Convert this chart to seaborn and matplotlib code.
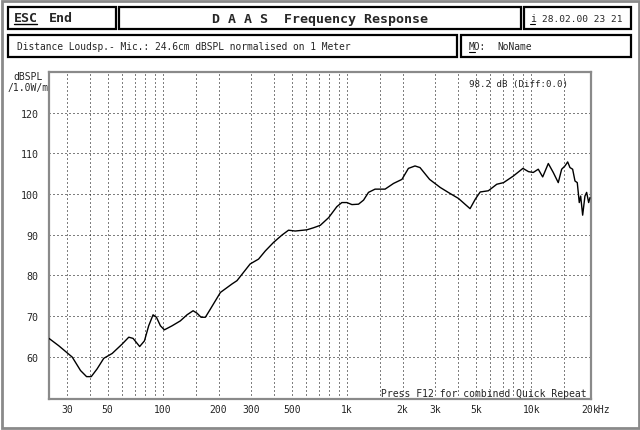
import numpy as np
import matplotlib
matplotlib.use('Agg')
import matplotlib.pyplot as plt
from matplotlib.patches import Rectangle
import seaborn as sns

sns.set_style('white')
plt.rcParams['font.family'] = ['DejaVu Sans Mono', 'DejaVu Sans']

# frequency response (Hz, dBSPL)
freq = [24, 27.1, 32.1, 35.6, 38.4, 40.7, 43.8, 47.6, 52.9, 59.9,
        65.1, 68.7, 74.6, 79.2, 83.5, 88.2, 92, 96.7, 101.6, 111.9,
        124, 134.9, 145.5, 152.8, 160.8, 169.7, 180.6, 204.8, 237, 252,
        297, 330, 359, 398, 442, 480, 522, 604, 656, 714,
        793, 879, 935, 996, 1061, 1152, 1227, 1305, 1417, 1606,
        1785, 1983, 2150, 2335, 2486, 2802, 3204, 3539, 4025, 4362,
        4649, 4958, 5276, 5845, 6492, 7067, 7975, 9005, 9657, 10250,
        10910, 11530, 12370, 13160, 14010, 14620, 15240, 15760, 16220, 16770,
        17270, 17770, 18220, 18540, 19010, 19560, 19980, 20490, 20820]
spl = [64.5, 62.7, 59.9, 56.6, 55.1, 55.1, 57.0, 59.6, 60.8, 63.1,
       64.8, 64.5, 62.5, 63.9, 67.6, 70.3, 69.7, 67.6, 66.6, 67.6,
       68.8, 70.3, 71.3, 70.7, 69.7, 69.7, 71.7, 75.8, 77.9, 78.7,
       82.8, 84.0, 86.0, 88.1, 89.9, 91.1, 90.9, 91.2, 91.7, 92.3,
       94.2, 96.9, 97.9, 97.9, 97.4, 97.5, 98.5, 100.4, 101.2, 101.2,
       102.6, 103.6, 106.3, 106.9, 106.5, 103.6, 101.6, 100.4, 98.9, 97.5,
       96.4, 98.7, 100.5, 100.8, 102.4, 102.8, 104.4, 106.3, 105.5, 105.3,
       106.1, 104.2, 107.5, 105.3, 102.8, 106.1, 106.9, 107.9, 106.5, 106.1,
       103.2, 102.8, 97.9, 99.5, 94.8, 99.5, 100.4, 97.9, 99.1]

x_labels = ['30', '50', '100', '200', '300', '500', '1k', '2k', '3k', '5k', '10k', '20']
x_label_pos = [30, 50, 100, 200, 300, 500, 1000, 2000, 3000, 5000, 10000, 20000]
x_grid = [30, 40, 50, 60, 70, 80, 90, 100, 150, 200, 300, 400, 500, 600, 700,
          800, 900, 1000, 1500, 2000, 3000, 4000, 5000, 6000, 7000, 8000, 9000,
          10000, 15000]
y_ticks = [60, 70, 80, 90, 100, 110, 120]

W, H = 640, 431
fig = plt.figure(figsize=(6.4, 4.31), dpi=100)
fig.patch.set_facecolor('white')

# main plot area (pixel box 49..591 x 73..400)
ax = fig.add_axes([49 / W, (H - 400) / H, (591 - 49) / W, (400 - 73) / H])
ax.set_xscale('log')
ax.set_xlim(24, 21100)
ax.set_ylim(49.6, 130)

dot = (0, (1, 3))
for f in x_grid:
    ax.axvline(f, color='black', lw=0.72, ls=dot, zorder=1)
for v in y_ticks:
    ax.axhline(v, color='black', lw=0.72, ls=dot, zorder=1)

sns.lineplot(x=freq, y=spl, ax=ax, color='black', lw=1.0, zorder=3)

ax.set_xticks(x_label_pos, x_labels)
ax.set_xticks([], minor=True)
ax.set_yticks(y_ticks, [str(v) for v in y_ticks])
ax.tick_params(axis='x', length=0, pad=3.5, labelsize=7)
ax.tick_params(axis='y', length=0, pad=7.5, labelsize=7.2)
ax.set_xlabel('')
ax.set_ylabel('')
for s in ax.spines.values():
    s.set_color('#8a8a8a')
    s.set_linewidth(1.6)

ax.annotate('kHz', xy=(20000, 0), xycoords=('data', 'axes fraction'),
            xytext=(4.2, -3.5), textcoords='offset points',
            ha='left', va='top', fontsize=7)

# overlay in pixel coordinates for the header and frame
ov = fig.add_axes([0, 0, 1, 1], zorder=5)
ov.set_xlim(0, W)
ov.set_ylim(H, 0)
ov.axis('off')
ov.patch.set_alpha(0)

ov.add_patch(Rectangle((1.5, 1.5), W - 3, H - 3, fill=False, ec='#8a8a8a', lw=2))

boxes = [(8, 8, 108, 22), (118.5, 8, 402, 22), (523.5, 8, 107, 22),
         (8, 36, 449, 22), (460.5, 36, 170, 22)]
for bx, by, bw, bh in boxes:
    ov.add_patch(Rectangle((bx, by), bw, bh, fill=False, ec='black', lw=1.6))

ov.text(14, 19, 'ESC', fontsize=9.5, fontweight='bold', va='center', ha='left')
ov.plot([14, 37], [25, 25], color='black', lw=1)
ov.text(49, 19, 'End', fontsize=9.5, fontweight='bold', va='center', ha='left')
ov.text(320, 19.5, 'D A A S  Frequency Response', fontsize=9.5,
        fontweight='bold', va='center', ha='center')
ov.text(530, 19, 'i', fontsize=7, va='center', ha='left')
ov.plot([529.5, 535], [25, 25], color='black', lw=0.8)
ov.text(542, 19, '28.02.00 23 21', fontsize=6.8, va='center', ha='left')

ov.text(17, 47, 'Distance Loudsp.- Mic.: 24.6cm dBSPL normalised on 1 Meter',
        fontsize=6.9, va='center', ha='left')
ov.text(469, 47, 'MO:', fontsize=6.9, va='center', ha='left')
ov.plot([469, 475], [53, 53], color='black', lw=0.8)
ov.text(497, 47, 'NoName', fontsize=6.9, va='center', ha='left')

ov.text(28, 77, 'dBSPL', fontsize=7, va='center', ha='center')
ov.text(28, 87.5, '/1.0W/m', fontsize=7, va='center', ha='center')

ov.text(568, 85, '98.2 dB (Diff:0.0)', fontsize=6.6, va='center', ha='right')
ov.text(587, 399, 'Press F12 for combined Quick Repeat', fontsize=7,
        va='bottom', ha='right')

fig.savefig('out.png', dpi=100)
